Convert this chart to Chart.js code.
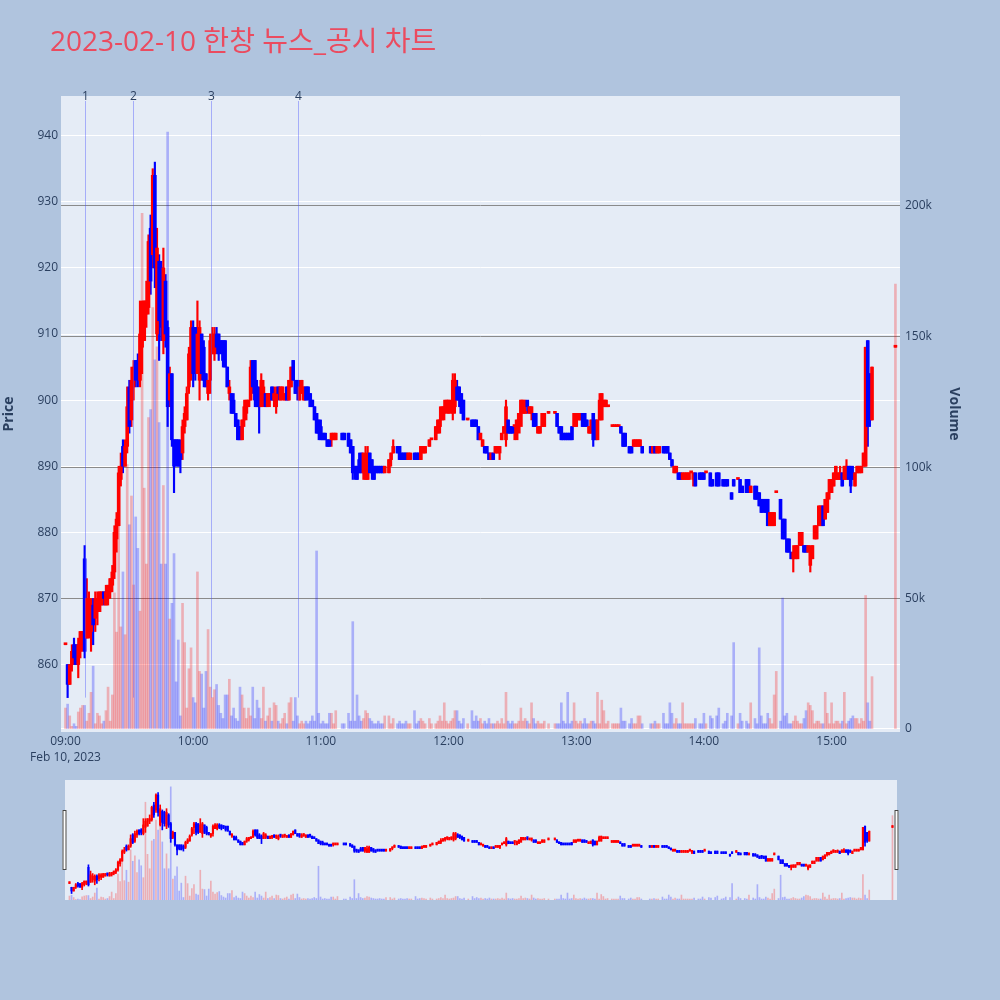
<!DOCTYPE html>
<html><head><meta charset="utf-8">
<script src="https://cdn.jsdelivr.net/npm/chart.js@4.4.0/dist/chart.umd.min.js"></script>
<style>
html,body{margin:0;padding:0;background:#B0C4DE;width:1000px;height:1000px;overflow:hidden;}
#main{position:absolute;left:0;top:0;}
#slider{position:absolute;left:0;top:770px;}
#title{position:absolute;left:50px;top:23px;font-family:'Open Sans','Noto Sans CJK KR',sans-serif;font-size:28px;line-height:34px;color:#EB4B5F;white-space:nowrap;}
</style></head><body>
<canvas id="main" width="1000" height="770"></canvas>
<canvas id="slider" width="1000" height="150"></canvas>
<div id="title">2023-02-10 한창 뉴스_공시 차트</div>
<script>
// ---------- data (1-minute candles, 2023-02-10) ----------
const times = [
"09:00","09:01","09:02","09:03","09:04","09:05","09:06","09:07","09:08","09:09",
"09:10","09:11","09:12","09:13","09:14","09:15","09:16","09:17","09:18","09:19",
"09:20","09:21","09:22","09:23","09:24","09:25","09:26","09:27","09:28","09:29",
"09:30","09:31","09:32","09:33","09:34","09:35","09:36","09:37","09:38","09:39",
"09:40","09:41","09:42","09:43","09:44","09:45","09:46","09:47","09:48","09:49",
"09:50","09:51","09:52","09:53","09:54","09:55","09:56","09:57","09:58","09:59",
"10:00","10:01","10:02","10:03","10:04","10:05","10:06","10:07","10:08","10:09",
"10:10","10:11","10:12","10:13","10:14","10:15","10:16","10:17","10:18","10:19",
"10:20","10:21","10:22","10:23","10:24","10:25","10:26","10:27","10:28","10:29",
"10:30","10:31","10:32","10:33","10:34","10:35","10:36","10:37","10:38","10:39",
"10:40","10:41","10:42","10:43","10:44","10:45","10:46","10:47","10:48","10:49",
"10:50","10:51","10:52","10:53","10:54","10:55","10:56","10:57","10:58","10:59",
"11:00","11:01","11:02","11:03","11:04","11:05","11:06","11:07","11:10","11:11",
"11:13","11:14","11:15","11:16","11:17","11:18","11:19","11:20","11:21","11:22","11:23","11:24","11:25","11:26","11:27","11:28","11:29","11:30",
"11:32","11:33","11:34","11:36","11:37","11:38","11:39","11:40","11:41","11:42",
"11:44","11:45","11:46","11:47","11:48","11:49","11:51","11:52","11:54","11:55","11:56","11:57","11:58","11:59",
"12:00","12:01","12:02","12:03","12:04","12:05","12:06","12:07","12:09",
"12:11","12:12","12:13","12:14","12:15","12:16","12:17","12:18","12:19","12:20",
"12:21","12:22","12:23","12:24","12:25","12:26","12:27","12:28","12:29","12:30",
"12:31","12:32","12:33","12:34","12:35","12:36","12:37","12:38","12:39","12:40",
"12:41","12:42","12:43","12:44","12:45","12:47",
"12:50","12:51","12:52","12:53","12:54","12:55","12:56","12:57","12:58","12:59",
"13:00","13:01","13:02","13:03","13:04","13:05","13:06","13:07","13:08","13:09","13:10","13:11","13:12","13:13","13:14","13:15",
"13:17","13:18","13:19","13:20","13:21","13:22","13:23",
"13:25","13:26","13:27","13:28","13:29","13:30","13:31",
"13:35","13:36","13:37","13:38","13:39",
"13:41","13:42","13:43","13:44","13:45","13:46","13:47","13:48","13:49","13:50","13:51","13:52","13:53","13:54","13:55","13:56",
"13:58","13:59",
"14:00","14:01","14:03","14:04","14:06","14:07","14:09","14:10","14:11","14:13","14:14","14:16","14:17","14:18","14:20","14:21","14:22",
"14:24","14:25","14:26","14:27","14:28","14:29","14:30","14:31","14:32","14:33","14:34",
"14:36","14:37","14:38","14:39","14:40","14:41","14:42","14:43","14:44","14:45","14:46","14:47",
"14:48","14:49","14:50","14:51","14:52","14:53","14:54","14:55","14:56","14:57","14:58","14:59",
"15:00","15:01","15:02","15:03","15:04","15:05","15:06","15:07","15:08","15:09",
"15:10","15:11","15:12","15:13","15:14","15:15","15:16","15:17","15:18","15:19","15:30"
];
const opens = [
863,860,857,860,863,863,860,862,863,876, 864,866,865,869,867,868,868,869,871,869,
870,871,872,874,879,881,888,893,890,893, 902,897,902,906,906,903,908,909,913,914,
926,922,934,910,921,920,909,918,911,900, 904,894,894,894,893,892,896,897,902,908,
911,911,904,903,910,908,904,901,903,907, 907,910,910,909,909,909,905,901,901,900,
898,897,896,894,897,898,899,900,906,906, 902,901,899,900,901,899,900,902,900,899,
902,900,901,900,902,900,902,906,903,903, 900,901,900,902,902,901,900,899,898,897,
896,895,895,894,894,894,894,894,895,895,
895,894,893,890,890,891,892,889,888,888,892,891,890,890,890,890,890,889,
889,891,892,893,893,892,892,892,891,891,
892,892,892,891,892,892,893,894,894,895,896,897,898,899,
898,899,898,899,902,902,901,900,897,
897,897,897,896,894,893,893,893,892,891, 892,892,892,892,894,895,894,897,896,896,
896,894,895,896,898,898,900,898,898,898, 898,895,895,896,896,898,
898,898,896,896,895,895,895,895,896,896,
896,897,897,898,898,897,895,895,898,897,894,897,897,899,899,899,
896,896,896,896,896,895,895, 893,893,893,893,893,893,893, 893,892,893,892,892,
893,893,893,892,891,889,889,889,889,888,888,888,888,889,888,889, 889,889,
889,889,889,888,889,889,888,888,888,886,888,888,888,887,888,888,886,
887,886,886,885,885,885,885,881,881,881,886,
885,882,882,879,879,877,876,876,876,878,878,878, 878,877,875,876,879,879,881,881,884,882,883,886,
886,887,888,888,888,889,888,888,890,890, 889,887,889,889,889,890,890,909,904,897,908
];
const highs = [
863,860,860,863,864,863,864,865,865,878, 873,871,870,870,871,871,871,871,871,872,
872,873,875,881,883,890,892,894,894,902, 903,905,906,906,907,915,915,915,918,925,
928,935,936,926,922,921,923,919,912,905, 904,894,894,894,894,897,899,902,908,912,
912,911,915,912,910,909,904,903,910,911, 911,911,910,909,909,909,905,903,901,901,
898,897,896,897,900,900,900,906,906,906, 903,902,904,903,901,901,901,902,902,902,
902,902,902,901,902,903,905,906,903,903, 903,903,902,902,902,901,900,899,898,897,
897,895,895,894,894,895,895,895,895,895,
895,894,893,890,890,892,892,892,893,893,892,891,890,890,890,890,890,890,
891,892,894,893,893,892,892,892,892,892,
892,892,892,893,893,893,894,894,896,897,899,899,900,900,
900,900,904,904,903,902,901,900,897,
897,897,897,896,895,894,893,893,892,892, 892,893,893,893,895,896,900,897,896,896,
896,897,898,900,900,900,899,899,899,898, 898,896,896,898,898,898,
898,898,896,896,895,895,895,895,896,898,
898,898,898,898,898,897,896,897,898,897,897,901,901,900,900,899,
896,896,896,896,896,895,895, 893,893,894,894,894,894,893, 893,893,893,893,893,
893,893,893,892,891,890,890,889,889,889,889,889,889,889,889,889, 889,889,
889,889,889,888,889,889,888,888,888,886,888,888,888,887,888,888,887,
887,887,886,885,885,885,885,883,883,883,886,
885,882,882,879,879,877,878,878,878,880,880,878, 878,878,878,878,881,881,884,884,884,885,886,888,
888,889,890,889,890,889,890,891,890,890, 890,889,890,890,890,892,908,909,904,905,908
];
const lows = [
863,855,857,859,860,860,858,861,862,861, 864,864,862,863,865,866,868,869,869,869,
869,870,871,873,877,881,887,889,890,892, 895,896,900,902,902,902,904,909,911,913,
916,920,917,909,906,909,907,908,896,899, 893,886,890,890,889,891,895,897,901,903,
902,903,904,900,903,902,902,900,901,907, 906,907,906,907,905,905,902,900,898,898,
896,894,894,894,896,897,899,900,901,899, 899,895,899,899,899,899,899,900,899,898,
900,900,900,900,900,900,902,903,901,900, 900,901,900,900,900,899,899,897,895,894,
894,894,894,893,893,893,894,894,894,894,
893,892,888,888,888,889,889,888,888,888,889,888,888,889,889,889,889,889,
889,890,892,892,891,891,891,891,891,891,
891,891,891,891,892,892,893,894,894,895,895,897,897,898,
898,898,897,898,900,899,898,897,897,
896,896,896,894,894,893,892,892,891,891, 891,892,892,891,894,895,893,895,895,895,
894,895,896,897,898,898,898,898,897,896, 896,895,895,896,896,898,
898,896,895,894,894,894,894,894,894,896,
896,897,897,896,896,896,895,895,893,894,894,897,897,899,899,899,
896,896,896,896,895,893,893, 892,892,893,893,893,893,892, 892,892,892,892,892,
892,892,892,891,890,889,889,888,888,888,888,888,888,889,887,887, 888,888,
888,889,887,887,887,887,887,887,887,885,887,888,886,886,886,886,886,
885,885,884,883,883,883,881,881,881,881,886,
882,879,879,877,877,876,874,876,876,878,878,877, 877,877,874,876,879,879,881,881,881,882,883,885,
886,887,888,888,888,887,888,888,888,886, 888,887,889,889,889,890,890,893,896,897,908
];
const closes = [
863,857,860,862,861,860,863,865,865,862, 870,869,869,866,870,870,871,871,870,871,
872,873,874,880,882,889,890,890,893,899, 896,903,905,903,904,910,913,915,915,924,
918,934,920,923,912,911,920,910,899,904, 894,890,891,890,891,896,898,901,907,911,
904,904,910,911,904,903,902,903,909,910, 910,908,907,908,906,905,902,902,898,898,
896,894,894,897,899,900,900,905,902,900, 899,899,903,902,899,901,901,900,901,901,
901,902,902,901,900,903,905,903,901,901, 902,903,902,900,901,899,899,897,895,895,
894,894,894,893,893,895,895,895,894,894,
893,892,889,889,888,889,889,892,891,892,889,889,888,889,889,889,889,890,
891,892,893,892,891,891,891,891,892,892,
891,891,891,893,893,893,894,894,896,897,897,899,899,900,
900,899,903,903,900,900,898,897,897,
896,896,896,894,895,894,892,892,891,892, 891,893,893,893,895,896,899,895,895,895,
896,897,898,900,900,898,899,899,899,896, 896,896,896,898,898,898,
898,896,895,894,894,894,894,894,894,898,
898,898,898,896,896,896,896,897,894,894,897,900,901,900,900,899,
896,896,896,896,895,893,893, 892,892,894,894,894,894,892, 892,893,892,893,893,
892,892,892,891,890,890,890,888,888,889,889,889,889,889,889,887, 888,888,
888,889,887,887,887,887,887,887,887,885,887,888,886,886,886,886,887,
885,885,884,883,884,883,881,883,883,883,886,
882,879,879,877,877,876,877,878,878,880,880,877, 877,878,877,878,881,881,884,884,881,885,886,888,
888,889,890,889,889,887,890,890,888,887, 888,889,890,890,890,892,908,896,897,905,908
];
const volumes = [
8000,9500,5000,1000,2000,1000,6500,8000,9000,9000, 3000,6000,14000,24000,2000,6000,5000,2000,3000,7000,
16000,3000,13000,52000,37000,78000,39000,60000,36000,101000, 78000,89000,55000,81000,69000,45000,197000,92000,63000,119000,
122000,161000,141000,146000,117000,63000,93000,63000,228000,42000, 48000,67000,18000,34000,5000,48000,33000,8000,23000,31000,
12000,10000,60000,22000,21000,8000,22000,38000,16000,12000, 15000,17000,9000,6000,4000,13000,13000,19000,5000,8000,
4000,3000,16000,13000,8000,4000,8000,5000,16000,4000, 11000,8000,4000,16000,3000,5000,8000,3000,10000,9000,
3000,2000,4000,6000,2000,10000,12000,3000,12000,5000, 2000,3000,2000,3000,2000,3000,5000,3000,68000,6000,
2000,3000,2000,2000,6000,6000,2000,7000,2000,2000,
6000,3000,41000,3000,13000,5000,3000,4000,7000,6000,4000,3000,2000,2000,3000,2000,2000,5000,
5000,2000,4000,2000,3000,2000,2000,3000,2000,2000,
7000,2000,3000,4000,3000,2000,4000,2000,2000,3000,5000,3000,10000,3000,
2000,3000,4000,7000,7000,3000,2000,4000,2000,
7000,3000,5000,3000,4000,2000,3000,2000,4000,2000, 2000,2000,3000,2000,4000,2000,14000,3000,2000,3000,
2000,2000,3000,8000,3000,4000,3000,2000,10000,4000, 2000,3000,2000,2000,3000,2000,
2000,2000,2000,10000,3000,2000,14000,2000,3000,10000,
3000,2000,3000,2000,4000,2000,2000,3000,3000,2000,14000,2000,11000,7000,2000,3000,
2000,2000,2000,2000,8000,3000,3000, 2000,4000,2000,2000,5000,5000,2000, 2000,2000,3000,2000,2000,
6000,2000,2000,10000,6000,2000,4000,2000,2000,10000,2000,2000,2000,2000,2000,4000, 2000,2000,
6000,2000,5000,4000,5000,8000,2000,3000,6000,5000,33000,2000,6000,3000,3000,2000,10000,
4000,2000,31000,5000,2000,2000,6000,4000,2000,13000,22000,
3000,50000,5000,6000,2000,2000,3000,5000,3000,2000,2000,4000, 7000,10000,9000,7000,2000,3000,3000,2000,2000,14000,6000,2000,
10000,2000,3000,3000,2000,3000,14000,2000,3000,4000, 5000,4000,4000,2000,4000,3000,51000,10000,3000,20000,170000
];
const priceTicks = [860,870,880,890,900,910,920,930,940];
const volumeTicks = [0,50000,100000,150000,200000];
const hourTicks = ["09:00","10:00","11:00","12:00","13:00","14:00","15:00"];
const newsTimes = ["09:09:23","09:31:55","10:08:32","10:49:23"];
const newsLabels = ["1","2","3","4"];
const dateLabel = "Feb 10, 2023";
const priceTitle = "Price";
const volumeTitle = "Volume";

// ---------- helpers ----------
function toMin(t){const p=t.split(':').map(Number);return (p[0]-9)*60+p[1]+(p[2]||0)/60;}
const xs = times.map(toMin);
const isUp = closes.map((c,i)=>c>=opens[i]);
const candleCol = isUp.map(u=>u?'#FF0000':'#0000FF');
const volCol = isUp.map(u=>u?'rgba(255,0,0,0.26)':'rgba(0,0,255,0.26)');
const lowest = Math.min(...lows);
const hourMins = hourTicks.map(toMin);

const FONT = "'Open Sans','Noto Sans CJK KR',sans-serif";
Chart.defaults.font.family = FONT;
Chart.defaults.color = '#2a3f5f';

const X_MIN = -2.11, X_MAX = 392.15, P_MIN = 849.8, P_MAX = 946.0;

function makeDatasets(bodyW, wickW, volW){
  return [
    {type:'bar', label:'vol', yAxisID:'yv', order:3, grouped:false, barThickness:volW,
     data: xs.map((x,i)=>({x, y:volumes[i]})), backgroundColor: volCol, borderWidth:0},
    {type:'bar', label:'wick', yAxisID:'y', order:2, grouped:false, barThickness:wickW, minBarLength:1,
     data: xs.map((x,i)=>({x, y:[lows[i], highs[i]]})), backgroundColor: candleCol, borderWidth:0},
    {type:'bar', label:'body', yAxisID:'y', order:1, grouped:false, barThickness:bodyW, minBarLength:2,
     data: xs.map((x,i)=>({x, y:[opens[i], closes[i]]})), backgroundColor: candleCol, borderWidth:0}
  ];
}

const bgPlugin = {
  id:'plotbg',
  beforeDraw(chart){
    const a = chart.chartArea, c = chart.ctx;
    c.save(); c.fillStyle = '#E5ECF6'; c.fillRect(a.left, a.top, a.right-a.left, a.bottom-a.top); c.restore();
  }
};

const newsPlugin = {
  id:'news',
  afterDatasetsDraw(chart){
    const c = chart.ctx, xS = chart.scales.x, yS = chart.scales.y, a = chart.chartArea;
    c.save();
    c.strokeStyle = 'rgba(70,80,255,0.4)'; c.lineWidth = 1;
    c.fillStyle = '#2a3f5f'; c.font = "12px " + FONT; c.textAlign = 'center'; c.textBaseline = 'middle';
    newsTimes.forEach((t,i)=>{
      const px = Math.round(xS.getPixelForValue(toMin(t))) + 0.5;
      c.beginPath(); c.moveTo(px, a.top + 5); c.lineTo(px, yS.getPixelForValue(lowest)); c.stroke();
      c.fillText(newsLabels[i], px, a.top + 1);
    });
    c.restore();
  }
};

new Chart(document.getElementById('main'), {
  data: { datasets: makeDatasets(3, 1.5, 2) },
  plugins: [bgPlugin, newsPlugin],
  options: {
    responsive:false, animation:false, devicePixelRatio:1,
    layout:{padding:{top:96, left:0, right:0, bottom:0}},
    plugins:{legend:{display:false}, tooltip:{enabled:false}, title:{display:false}},
    scales:{
      x:{type:'linear', min:X_MIN, max:X_MAX, offset:false,
         grid:{display:false, drawTicks:false}, border:{display:false},
         afterBuildTicks:(s)=>{s.ticks = hourMins.map(v=>({value:v}));},
         ticks:{padding:2, maxRotation:0, autoSkip:false, font:{size:12, lineHeight:1.3},
                callback:(v)=>{const i = hourMins.indexOf(v); const s = i>=0?hourTicks[i]:''; return i===0?[s, dateLabel]:s;}},
         afterFit:(s)=>{s.height=38;}},
      y:{type:'linear', position:'left', min:P_MIN, max:P_MAX,
         grid:{color:'#FFFFFF', lineWidth:1, drawTicks:false}, border:{display:false},
         afterBuildTicks:(s)=>{s.ticks = priceTicks.map(v=>({value:v}));},
         ticks:{padding:3, font:{size:12}, callback:(v)=>String(v)},
         title:{display:true, text:priceTitle, font:{size:14, weight:'bold'}, padding:{top:1,bottom:0}},
         afterFit:(s)=>{s.width=61;}},
      yv:{type:'linear', position:'right', min:-1150, max:241800,
         grid:{color:(ctx)=>ctx.tick && ctx.tick.value===0?'#FFFFFF':'#8a8a8a', lineWidth:1, drawTicks:false}, border:{display:false},
         afterBuildTicks:(s)=>{s.ticks = volumeTicks.map(v=>({value:v}));},
         ticks:{padding:5, font:{size:12}, callback:(v)=>v===0?'0':(v/1000)+'k'},
         title:{display:true, text:volumeTitle, font:{size:14, weight:'bold'}, padding:{top:37.6,bottom:0}},
         afterFit:(s)=>{s.width=100;}}
    }
  }
});

const handlePlugin = {
  id:'handles',
  afterDraw(chart){
    const c = chart.ctx, a = chart.chartArea;
    c.save(); c.fillStyle = '#FFFFFF'; c.strokeStyle = '#444444'; c.lineWidth = 1;
    [a.left - 1.5, a.right - 1.5].forEach(x=>{
      c.fillRect(x-1, 40, 4, 60); c.strokeRect(x-1+0.5, 40.5, 3, 59);
    });
    c.restore();
  }
};

new Chart(document.getElementById('slider'), {
  data: { datasets: makeDatasets(1.5, 1, 1) },
  plugins: [bgPlugin, handlePlugin],
  options: {
    responsive:false, animation:false, devicePixelRatio:1,
    layout:{padding:{top:10, left:65, right:103, bottom:20}},
    plugins:{legend:{display:false}, tooltip:{enabled:false}},
    scales:{
      x:{type:'linear', min:X_MIN, max:X_MAX, offset:false, display:false},
      y:{type:'linear', min:P_MIN, max:P_MAX, display:false},
      yv:{type:'linear', min:0, max:241800, display:false}
    }
  }
});
</script>
</body></html>
